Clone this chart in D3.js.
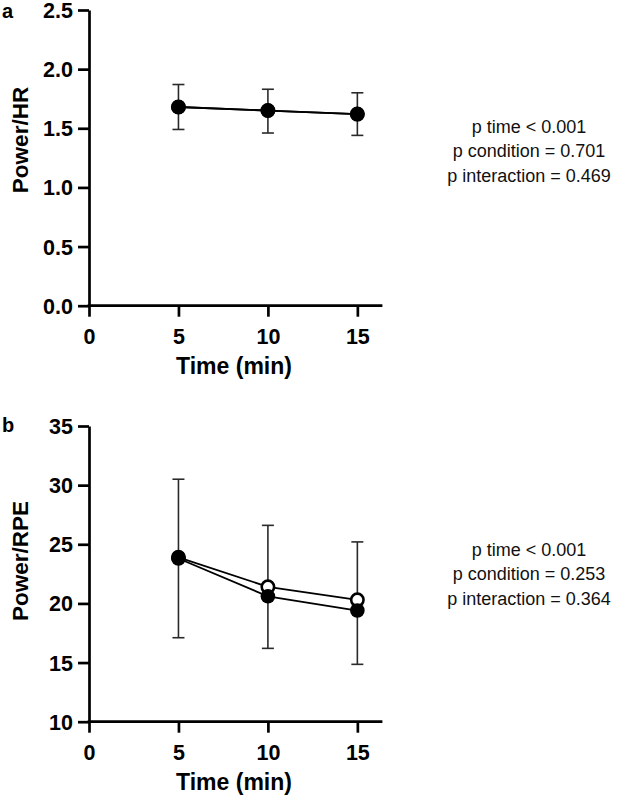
<!DOCTYPE html>
<html>
<head>
<meta charset="utf-8">
<script src="https://cdn.jsdelivr.net/npm/d3@7"></script>
<style>
  body { margin: 0; background: #fff; }
  svg { display: block; }
</style>
</head>
<body>
<div id="chart"></div>
<script>
// time points (min)
var times = [5, 10, 15];

// panel a: Power/HR
var hrOpen = [1.68, 1.65, 1.62];
var hrOpenSd = [0.19, 0.18, 0.18];
var hrFilled = [1.68, 1.65, 1.62];
var hrFilledSd = [0.19, 0.19, 0.18];

// panel b: Power/RPE
var rpeOpen = [23.9, 21.4, 20.3];
var rpeOpenSd = [6.6, 5.2, 4.9];
var rpeFilled = [23.8, 20.6, 19.4];
var rpeFilledSd = [6.7, 4.4, 4.55];

var xTicks = [0, 5, 10, 15];
var hrTicks = [0, 0.5, 1.0, 1.5, 2.0, 2.5];
var rpeTicks = [10, 15, 20, 25, 30, 35];

var statsA = ["p time < 0.001", "p condition = 0.701", "p interaction = 0.469"];
var statsB = ["p time < 0.001", "p condition = 0.253", "p interaction = 0.364"];

var w = 617, h = 800;
var font = "Liberation Sans, Arial, sans-serif";
var svg = d3.select("#chart").append("svg")
    .attr("width", w)
    .attr("height", h);

var x = d3.scaleLinear().domain([0, 16.4]).range([89, 382.4]);

function panel(opts) {
  var y = d3.scaleLinear().domain(opts.domain).range([opts.bottom, opts.top]);
  var g = svg.append("g");

  // axes
  var yAxis = g.append("g")
      .attr("transform", "translate(" + x(0) + ",0)")
      .call(d3.axisLeft(y).tickValues(opts.ticks).tickFormat(opts.fmt)
        .tickSize(11).tickSizeOuter(0).tickPadding(5));
  var xAxis = g.append("g")
      .attr("transform", "translate(0," + opts.bottom + ")")
      .call(d3.axisBottom(x).tickValues(xTicks).tickFormat(d3.format("d"))
        .tickSize(11).tickSizeOuter(0).tickPadding(12));
  [yAxis, xAxis].forEach(function(a) {
    a.select(".domain").attr("stroke", "#000").attr("stroke-width", 2.7);
    a.selectAll(".tick line").attr("stroke", "#000").attr("stroke-width", 2.7);
    a.selectAll(".tick text")
      .attr("fill", "#000")
      .attr("font-family", font)
      .attr("font-weight", "bold")
      .attr("font-size", "21.5px");
  });
  yAxis.selectAll(".tick text").attr("dy", "0.35em");
  xAxis.select(".domain").attr("d", "M" + (x(0) - 1.35) + ",0H" + x(16.4));

  // error bars: open goes up, filled goes down
  var bars = [];
  times.forEach(function(t, i) {
    bars.push({t: t, from: opts.open[i], to: opts.open[i] + opts.openSd[i]});
    bars.push({t: t, from: opts.filled[i], to: opts.filled[i] - opts.filledSd[i]});
  });
  var eb = g.append("g").attr("stroke", "#2a2a2a").attr("stroke-width", 1.6);
  eb.selectAll("line.v").data(bars).enter().append("line")
      .attr("class", "v")
      .attr("x1", function(d) { return x(d.t); })
      .attr("x2", function(d) { return x(d.t); })
      .attr("y1", function(d) { return y(d.from); })
      .attr("y2", function(d) { return y(d.to); });
  eb.selectAll("line.c").data(bars).enter().append("line")
      .attr("class", "c")
      .attr("x1", function(d) { return x(d.t) - 6; })
      .attr("x2", function(d) { return x(d.t) + 6; })
      .attr("y1", function(d) { return y(d.to); })
      .attr("y2", function(d) { return y(d.to); });

  var line = d3.line()
      .x(function(d, i) { return x(times[i]); })
      .y(function(d) { return y(d); });
  [opts.open, opts.filled].forEach(function(s) {
    g.append("path").datum(s)
      .attr("d", line)
      .attr("fill", "none")
      .attr("stroke", "#000")
      .attr("stroke-width", 1.8);
  });

  // markers
  g.selectAll("circle.open").data(opts.open).enter().append("circle")
      .attr("class", "open")
      .attr("cx", function(d, i) { return x(times[i]); })
      .attr("cy", function(d) { return y(d); })
      .attr("r", 6.2)
      .attr("fill", "#fff")
      .attr("stroke", "#000")
      .attr("stroke-width", 2.6);
  g.selectAll("circle.filled").data(opts.filled).enter().append("circle")
      .attr("class", "filled")
      .attr("cx", function(d, i) { return x(times[i]); })
      .attr("cy", function(d) { return y(d); })
      .attr("r", 7.3)
      .attr("fill", "#000");

  // titles
  g.append("text")
      .text("Time (min)")
      .attr("x", 234)
      .attr("y", opts.bottom + 68)
      .attr("text-anchor", "middle")
      .attr("font-family", font)
      .attr("font-weight", "bold")
      .attr("font-size", "23px");
  g.append("text")
      .text(opts.ylabel)
      .attr("transform", "translate(28," + opts.ylabelY + ") rotate(-90)")
      .attr("text-anchor", "middle")
      .attr("font-family", font)
      .attr("font-weight", "bold")
      .attr("font-size", "22.5px");
  g.append("text")
      .text(opts.letter)
      .attr("x", 2)
      .attr("y", opts.letterY)
      .attr("font-family", font)
      .attr("font-weight", "bold")
      .attr("font-size", "20px");

  // stats
  g.selectAll("text.stat").data(opts.stats).enter().append("text")
      .attr("class", "stat")
      .text(function(d) { return d; })
      .attr("x", 529)
      .attr("y", function(d, i) { return opts.statY + i * 24.5; })
      .attr("text-anchor", "middle")
      .attr("font-family", font)
      .attr("font-size", "18px")
      .attr("fill", "#111");
}

panel({
  domain: [0, 2.5], top: 10, bottom: 305.7, ticks: hrTicks, fmt: d3.format(".1f"),
  open: hrOpen, openSd: hrOpenSd, filled: hrFilled, filledSd: hrFilledSd,
  ylabel: "Power/HR", ylabelY: 140, letter: "a", letterY: 18, stats: statsA, statY: 132.7
});
panel({
  domain: [10, 35], top: 426, bottom: 721.7, ticks: rpeTicks, fmt: d3.format("d"),
  open: rpeOpen, openSd: rpeOpenSd, filled: rpeFilled, filledSd: rpeFilledSd,
  ylabel: "Power/RPE", ylabelY: 561, letter: "b", letterY: 432, stats: statsB, statY: 555.5
});
</script>
</body>
</html>
